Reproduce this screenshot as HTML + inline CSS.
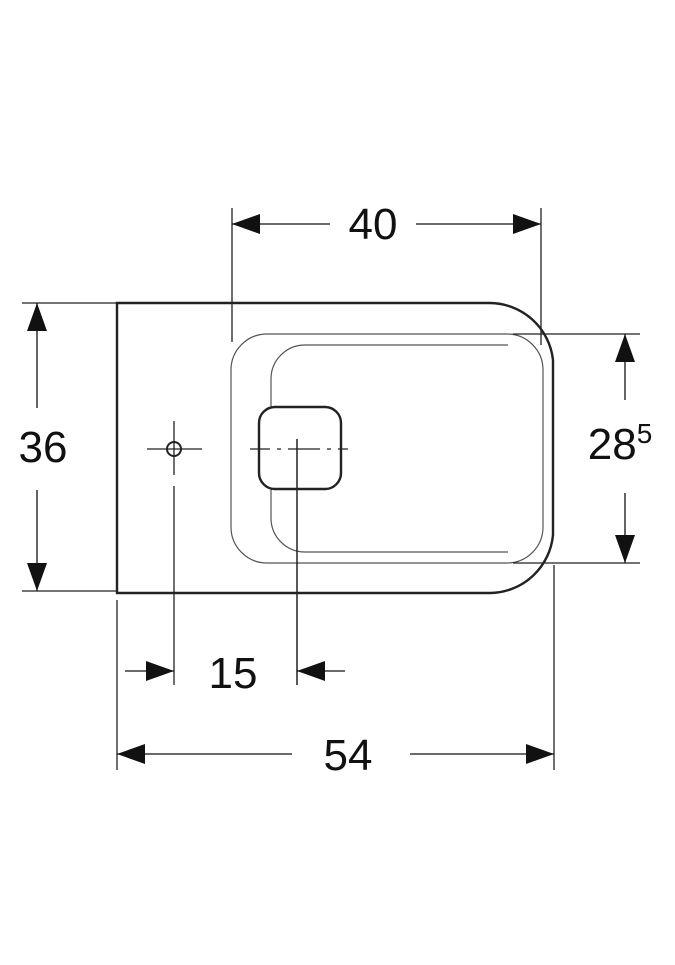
<!DOCTYPE html>
<html><head><style>html,body{margin:0;padding:0;background:#fff}</style></head>
<body>
<svg width="675" height="960" viewBox="0 0 675 960" xmlns="http://www.w3.org/2000/svg">
<defs>
<marker id="a" viewBox="0 0 28 20" refX="28" refY="10" markerWidth="28" markerHeight="20" markerUnits="userSpaceOnUse" orient="auto"><path d="M0,0 L28,10 L0,20 Z" fill="#111"/></marker>
</defs>
<g fill="none" stroke="#222">
<!-- body -->
<path d="M117,303 H490 A64,64 0 0 1 553,360 V535 A64,64 0 0 1 490,593 H117 Z" stroke-width="2.4"/>
<!-- seat -->
<rect x="231" y="334" width="312" height="229" rx="36" stroke-width="1.2" stroke="#555"/>
<path d="M508,345 H305 A34,34 0 0 0 271,379 V407 M271,489 V518 A34,34 0 0 0 305,552 H508" stroke-width="1.2" stroke="#555"/>
<rect x="259" y="407" width="82" height="82" rx="16" stroke-width="2.4"/>
<!-- centre lines -->
<path d="M250,449 H270 M277,449 H281 M288,449 H320 M327,449 H331 M338,449 H348" stroke-width="1.2"/>
<path d="M297,439 V685" stroke-width="1.5"/>
<circle cx="174" cy="449" r="7" stroke-width="2"/>
<path d="M147,449 H202 M174,421 V475 M174,486 V685" stroke-width="1.3"/>
<!-- extension lines -->
<g stroke-width="1.3">
<path d="M232,208 V342 M541,208 V345"/>
<path d="M22,303 H117 M22,591 H117"/>
<path d="M513,334 H640 M513,563 H640"/>
<path d="M117,600 V770 M554,565 V770"/>
</g>
<!-- dimension lines -->
<g stroke-width="1.3" stroke="#111">
<path d="M330,224 H232" marker-end="url(#a)"/>
<path d="M416,224 H541" marker-end="url(#a)"/>
<path d="M37,408 V303" marker-end="url(#a)"/>
<path d="M37,490 V591" marker-end="url(#a)"/>
<path d="M625,400 V334" marker-end="url(#a)"/>
<path d="M625,493 V563" marker-end="url(#a)"/>
<path d="M125,671 H174" marker-end="url(#a)"/>
<path d="M345,671 H297" marker-end="url(#a)"/>
<path d="M292,754 H117" marker-end="url(#a)"/>
<path d="M410,754 H554" marker-end="url(#a)"/>
</g>
</g>
<g font-family="Liberation Sans, sans-serif" font-size="44" fill="#111" text-anchor="middle">
<text x="373" y="239">40</text>
<text x="43" y="462">36</text>
<text x="233" y="688">15</text>
<text x="348" y="770">54</text>
<text x="620" y="459">28<tspan font-size="28" dy="-16">5</tspan></text>
</g>
</svg>
</body></html>
